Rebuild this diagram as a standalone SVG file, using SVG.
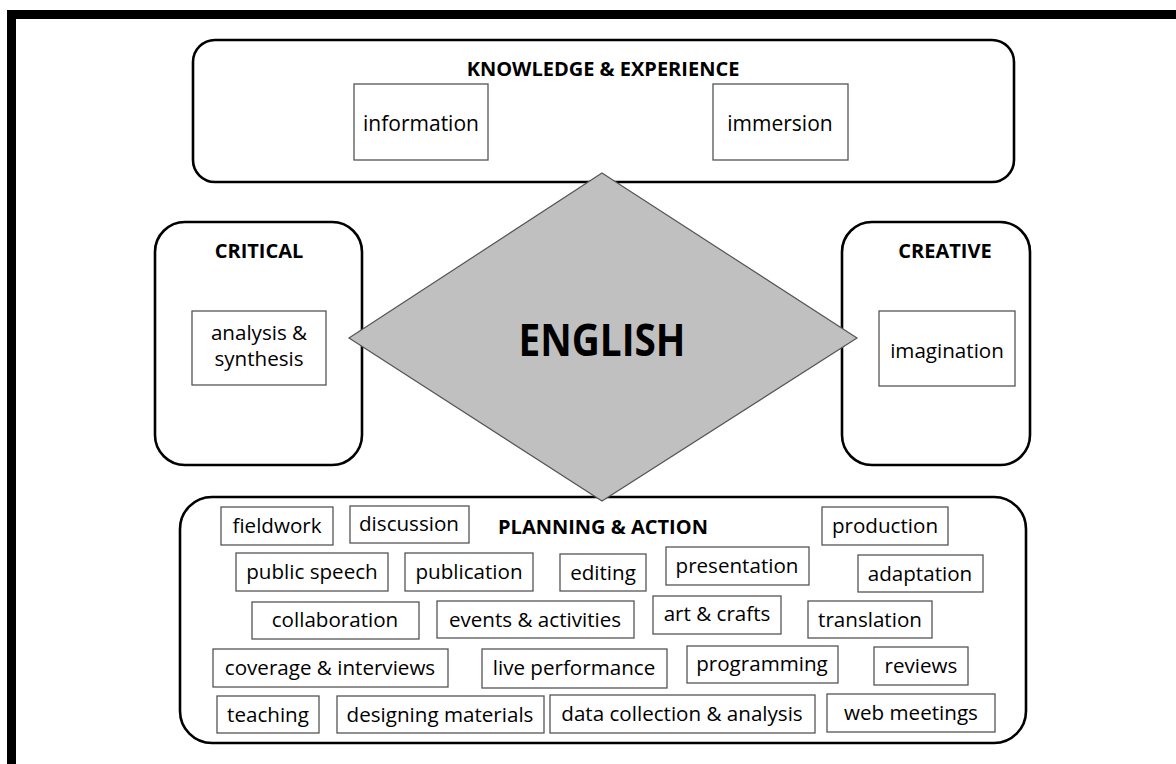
<svg xmlns="http://www.w3.org/2000/svg" width="1176" height="764" viewBox="0 0 1176 764">
<style>
.frame{fill:#000}
.grp{fill:#fff;stroke:#000;stroke-width:2.6}
.item{fill:#fff;stroke:#555;stroke-width:1.3}
.hd{font-family:"Open Sans","Noto Sans",sans-serif;font-weight:bold;font-size:20px;fill:#000;text-anchor:middle}
.lb{font-family:"Open Sans","Noto Sans",sans-serif;font-size:20.6px;fill:#000;text-anchor:middle}
.big{font-family:"Open Sans","Noto Sans",sans-serif;font-weight:bold;font-size:45px;fill:#000;text-anchor:middle}
.dia{fill:#c0c0c0;stroke:#555;stroke-width:1.2}
</style>
<rect width="1176" height="764" fill="#fff"/>
<rect class="frame" x="7" y="10" width="1169" height="9"/>
<rect class="frame" x="7" y="10" width="9" height="754"/>

<g id="knowledge">
<rect class="grp" x="193" y="40" width="821" height="142" rx="22"/>
<text class="hd" x="603" y="76">KNOWLEDGE &amp; EXPERIENCE</text>
<rect class="item" x="354" y="84" width="134" height="76"/>
<text class="lb" x="421" y="131" style="font-size:21px">information</text>
<rect class="item" x="713" y="84" width="135" height="76"/>
<text class="lb" x="780" y="131" style="font-size:21px">immersion</text>
</g>

<g id="critical">
<rect class="grp" x="155" y="222" width="207" height="243" rx="30"/>
<text class="hd" x="259" y="258">CRITICAL</text>
<rect class="item" x="192" y="311" width="134" height="74"/>
<text class="lb" x="259" y="340">analysis &amp;</text>
<text class="lb" x="259" y="366">synthesis</text>
</g>

<g id="creative">
<rect class="grp" x="842" y="222" width="188" height="243" rx="30"/>
<text class="hd" x="945" y="258">CREATIVE</text>
<rect class="item" x="879" y="311" width="136" height="75"/>
<text class="lb" x="947" y="358">imagination</text>
</g>

<g id="planning">
<rect class="grp" x="180" y="497" width="846" height="246" rx="32"/>
<text class="hd" x="603" y="534">PLANNING &amp; ACTION</text>
<rect class="item" x="221" y="507" width="112" height="38"/><text class="lb" x="277" y="533">fieldwork</text>
<rect class="item" x="350" y="506" width="119" height="37"/><text class="lb" x="409" y="531">discussion</text>
<rect class="item" x="822" y="507" width="126" height="38"/><text class="lb" x="885" y="533">production</text>
<rect class="item" x="236" y="553" width="152" height="38"/><text class="lb" x="312" y="579">public speech</text>
<rect class="item" x="405" y="553" width="128" height="38"/><text class="lb" x="469" y="579">publication</text>
<rect class="item" x="560" y="554" width="86" height="37"/><text class="lb" x="603" y="580">editing</text>
<rect class="item" x="666" y="547" width="143" height="38"/><text class="lb" x="737" y="573">presentation</text>
<rect class="item" x="858" y="555" width="125" height="37"/><text class="lb" x="920" y="581">adaptation</text>
<rect class="item" x="252" y="602" width="167" height="37"/><text class="lb" x="335" y="627">collaboration</text>
<rect class="item" x="437" y="601" width="197" height="37"/><text class="lb" x="535" y="627">events &amp; activities</text>
<rect class="item" x="653" y="596" width="128" height="38"/><text class="lb" x="717" y="621">art &amp; crafts</text>
<rect class="item" x="808" y="601" width="124" height="37"/><text class="lb" x="870" y="627">translation</text>
<rect class="item" x="213" y="649" width="235" height="38"/><text class="lb" x="330" y="675">coverage &amp; interviews</text>
<rect class="item" x="482" y="649" width="185" height="39"/><text class="lb" x="574" y="675">live performance</text>
<rect class="item" x="687" y="646" width="151" height="37"/><text class="lb" x="762" y="671">programming</text>
<rect class="item" x="874" y="647" width="94" height="38"/><text class="lb" x="921" y="673">reviews</text>
<rect class="item" x="217" y="696" width="102" height="37"/><text class="lb" x="268" y="722">teaching</text>
<rect class="item" x="337" y="696" width="207" height="37"/><text class="lb" x="440" y="722">designing materials</text>
<rect class="item" x="550" y="695" width="265" height="38"/><text class="lb" x="682" y="721">data collection &amp; analysis</text>
<rect class="item" x="827" y="694" width="168" height="38"/><text class="lb" x="911" y="720">web meetings</text>
</g>

<g id="english">
<polygon class="dia" points="602,173 857,338 602,501 349,338"/>
<text class="big" x="602" y="356" textLength="167" lengthAdjust="spacingAndGlyphs">ENGLISH</text>
</g>

<g id="connectors"></g>
</svg>
